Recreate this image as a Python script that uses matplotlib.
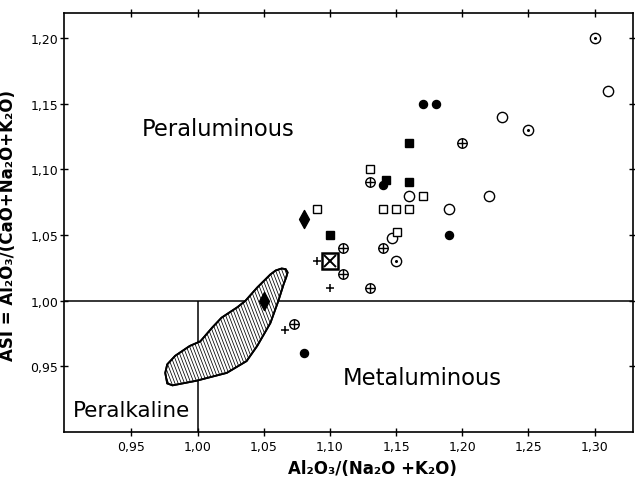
import numpy as np
import matplotlib.pyplot as plt
from matplotlib.patches import Polygon
from matplotlib.path import Path
from matplotlib.collections import LineCollection
from matplotlib.ticker import FuncFormatter

# x = Al2O3/(Na2O+K2O), y = ASI
filled_circle_x = [1.17, 1.18, 1.14, 1.19, 1.08]
filled_circle_y = [1.15, 1.15, 1.088, 1.05, 0.96]

open_circle_x = [1.31, 1.23, 1.16, 1.19, 1.22, 1.147]
open_circle_y = [1.16, 1.14, 1.08, 1.07, 1.08, 1.048]

dot_circle_x = [1.30, 1.25, 1.15]
dot_circle_y = [1.20, 1.13, 1.03]

filled_square_x = [1.16, 1.142, 1.16, 1.10]
filled_square_y = [1.12, 1.092, 1.09, 1.05]

open_square_x = [1.13, 1.17, 1.14, 1.15, 1.16, 1.09, 1.151]
open_square_y = [1.10, 1.08, 1.07, 1.07, 1.07, 1.07, 1.052]

cross_circle_x = [1.20, 1.13, 1.11, 1.14, 1.11, 1.13, 1.073]
cross_circle_y = [1.12, 1.09, 1.04, 1.04, 1.02, 1.01, 0.982]

plus_x = [1.09, 1.10, 1.066]
plus_y = [1.03, 1.01, 0.978]

diamond_x = [1.08, 1.05]
diamond_y = [1.062, 1.00]

mean_x = [1.10]
mean_y = [1.03]

# outline of the hatched field
field_x = [0.9755, 0.977, 0.981, 0.999, 1.022, 1.037, 1.045, 1.055, 1.061,
           1.065, 1.067, 1.068, 1.0665, 1.0635, 1.059, 1.055, 1.045, 1.036,
           1.030, 1.018, 1.011, 1.002, 0.994, 0.983, 0.977]
field_y = [0.945, 0.937, 0.9355, 0.939, 0.945, 0.954, 0.9655, 0.983, 0.9998,
           1.0125, 1.018, 1.0215, 1.024, 1.0245, 1.023, 1.020, 1.010, 0.9998,
           0.995, 0.987, 0.9795, 0.969, 0.9655, 0.958, 0.9515]

x_ticks = [0.95, 1.00, 1.05, 1.10, 1.15, 1.20, 1.25, 1.30]
y_ticks = [0.95, 1.00, 1.05, 1.10, 1.15, 1.20]
asi_limit = 1.00
ank_limit = 1.00

fig = plt.figure(figsize=(6.35, 4.81), dpi=100)
ax = fig.add_axes([0.1008, 0.0998, 0.896, 0.871])
ax.set_xlim(0.899, 1.329)
ax.set_ylim(0.90, 1.219)

# field boundaries
ax.axhline(asi_limit, color='black', lw=1.1, zorder=1)
ax.vlines(ank_limit, 0.90, asi_limit, color='black', lw=1.1, zorder=1)

field = Polygon(np.column_stack([field_x, field_y]), closed=True,
                facecolor='white', edgecolor='black', lw=1.3, zorder=2)
ax.add_patch(field)

# steep hatching clipped to the field
y_lo, y_hi = min(field_y) - 0.01, max(field_y) + 0.01
px_per_x = 0.896 * 635 / (1.329 - 0.899)
px_per_y = 0.871 * 481 / (1.219 - 0.90)
run = (y_hi - y_lo) * px_per_y / 2.6 / px_per_x
starts = np.arange(min(field_x) - run - 0.01, max(field_x) + 0.01, 3.2 / px_per_x)
segs = [[(s, y_hi), (s + run, y_lo)] for s in starts]
hatch = LineCollection(segs, colors='black', linewidths=0.55, zorder=2.1)
ax.add_collection(hatch)
hatch.set_clip_path(field)
ax.add_patch(Polygon(np.column_stack([field_x, field_y]), closed=True,
                     fill=False, edgecolor='black', lw=1.3, zorder=2.2))

ms_open = 7.4
ax.plot(filled_circle_x, filled_circle_y, 'o', color='black', ms=5.8, zorder=3)
ax.plot(open_circle_x, open_circle_y, 'o', mfc='white', mec='black', mew=1.0,
        ms=ms_open, zorder=3)
ax.plot(dot_circle_x, dot_circle_y, 'o', mfc='white', mec='black', mew=1.0,
        ms=ms_open, zorder=3)
ax.plot(dot_circle_x, dot_circle_y, 'o', color='black', ms=1.2, zorder=4)
ax.plot(filled_square_x, filled_square_y, 's', color='black', ms=6.2, zorder=3)
ax.plot(open_square_x, open_square_y, 's', mfc='white', mec='black', mew=1.0,
        ms=5.8, zorder=3)
ax.plot(cross_circle_x, cross_circle_y, 'o', mfc='white', mec='black', mew=1.0,
        ms=6.8, zorder=3)
ax.plot(cross_circle_x, cross_circle_y, '+', color='black', mew=1.0,
        ms=6.8, zorder=4)
ax.plot(plus_x, plus_y, '+', color='black', mew=1.1, ms=5.5, zorder=3)

diamond = Path([(0, 1), (0.55, 0), (0, -1), (-0.55, 0), (0, 1)],
               [Path.MOVETO, Path.LINETO, Path.LINETO, Path.LINETO, Path.CLOSEPOLY])
ax.plot(diamond_x, diamond_y, marker=diamond, ls='none', color='black',
        ms=13, zorder=5)

ax.plot(mean_x, mean_y, 's', mfc='white', mec='black', mew=1.8, ms=11.5, zorder=5)
ax.plot(mean_x, mean_y, 'x', color='black', mew=1.4, ms=9, zorder=6)

# field names
ax.text(0.958, 1.131, 'Peraluminous', fontsize=16.3, va='center', ha='left')
ax.text(1.1096, 0.9416, 'Metaluminous', fontsize=16.3, va='center', ha='left')
ax.text(0.906, 0.9165, 'Peralkaline', fontsize=15.5, va='center', ha='left')

# axes styling
ax.set_xticks(x_ticks)
ax.set_yticks(y_ticks)
comma = FuncFormatter(lambda v, p: f'{v:.2f}'.replace('.', ','))
ax.xaxis.set_major_formatter(comma)
ax.yaxis.set_major_formatter(comma)
ax.tick_params(axis='both', which='major', direction='inout', length=6,
               width=1.0, labelsize=9, top=True, right=True)
ax.tick_params(axis='x', pad=3)
ax.tick_params(axis='y', pad=1)
for spine in ax.spines.values():
    spine.set_linewidth(1.2)

ax.set_xlabel('Al₂O₃/(Na₂O +K₂O)', fontsize=12, fontweight='bold')
ax.xaxis.set_label_coords((372 - 64) / 569, -0.065)
ax.set_ylabel('ASI = Al₂O₃/(CaO+Na₂O+K₂O)', fontsize=12, fontweight='bold')
ax.yaxis.set_label_coords(-0.083, 0.495)

fig.savefig('out.png', dpi=100)
